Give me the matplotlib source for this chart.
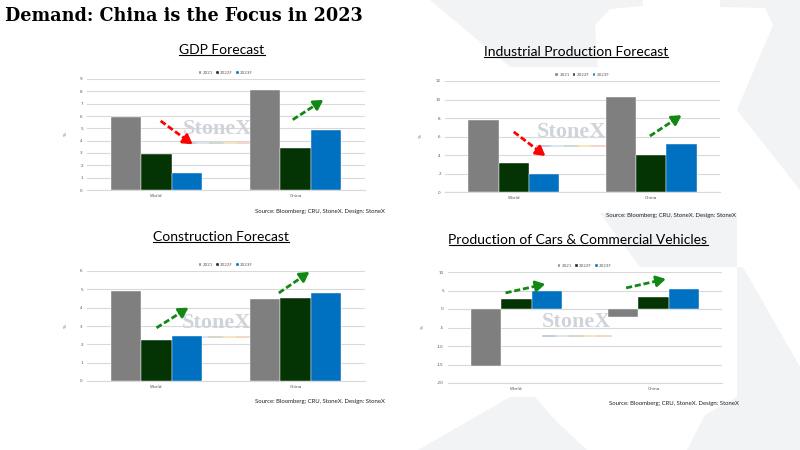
import numpy as np
import matplotlib
matplotlib.use("Agg")
import matplotlib.pyplot as plt
from matplotlib.patches import Polygon
from matplotlib.lines import Line2D

# ---- data ----
categories = ["World", "China"]
series_names = ["2021", "2022F", "2023F"]
series_colors = ["#7f7f7f", "#043304", "#0070c0"]

gdp_title = "GDP Forecast"
gdp_vals = [[5.9, 8.1], [2.9, 3.4], [1.4, 4.9]]
gdp_ticks = [0, 1, 2, 3, 4, 5, 6, 7, 8, 9]

ip_title = "Industrial Production Forecast"
ip_vals = [[7.8, 10.3], [3.1, 4.0], [1.9, 5.2]]
ip_ticks = [0, 2, 4, 6, 8, 10, 12]

con_title = "Construction Forecast"
con_vals = [[4.9, 4.45], [2.25, 4.55], [2.45, 4.82]]
con_ticks = [0, 1, 2, 3, 4, 5, 6]

cars_title = "Production of Cars & Commercial Vehicles"
cars_vals = [[-15.4, -2.1], [2.8, 3.2], [4.9, 5.4]]
cars_ticks = [-20, -15, -10, -5, 0, 5, 10]

# trend arrows: (x0, y0, x1, y1, colour) in data units
gdp_arrows = [(0.03, 5.6, 0.26, 3.7, "#ff0000"), (0.98, 5.7, 1.2, 7.3, "#118811")]
ip_arrows = [(0.0, 6.5, 0.23, 3.9, "#ff0000"), (0.99, 6.05, 1.22, 8.3, "#118811")]
con_arrows = [(0.0, 2.9, 0.23, 4.0, "#118811"), (0.88, 4.8, 1.1, 5.95, "#118811")]
cars_arrows = [(-0.08, 4.35, 0.21, 6.75, "#118811"), (0.8, 5.7, 1.09, 8.1, "#118811")]

source = "Source: Bloomberg; CRU, StoneX. Design: StoneX"

W, H = 800, 450
fig = plt.figure(figsize=(8, 4.5), dpi=100)
fig.patch.set_facecolor("white")

# faint logo shapes in the background (pixel coords)
bg = fig.add_axes([0, 0, 1, 1], zorder=-10)
bg.set_xlim(0, W)
bg.set_ylim(H, 0)
bg.axis("off")
shade = "#f2f3f5"
for pts in [
    [(430, 0), (643, 0), (643, 6), (610, 9), (595, 25), (598, 67), (510, 67)],
    [(720, 0), (800, 0), (800, 190), (737, 110), (773, 25), (765, 8), (720, 7)],
    [(600, 213), (737, 213), (737, 267), (640, 267)],
    [(418, 450), (510, 397), (535, 397), (555, 420), (587, 450)],
    [(687, 450), (705, 415), (737, 397), (737, 267), (743, 267), (800, 367), (800, 450)],
]:
    bg.add_patch(Polygon(pts, closed=True, facecolor=shade, edgecolor="none"))


def px_axes(left, right, top, bottom):
    return fig.add_axes([left / W, 1 - bottom / H, (right - left) / W, (bottom - top) / H])


def draw_arrow(ax, x0, y0, x1, y1, color):
    f = 0.72
    xm, ym = x0 + (x1 - x0) * f, y0 + (y1 - y0) * f
    ax.plot([x0, xm], [y0, ym], color=color, lw=2.0, dashes=(2.2, 1.0),
            solid_capstyle="butt", dash_capstyle="butt", zorder=5, clip_on=False)
    ax.annotate("", xy=(x1, y1), xytext=(xm, ym), zorder=6,
                arrowprops=dict(arrowstyle="-|>,head_width=0.32,head_length=0.55",
                                color=color, lw=2.0, shrinkA=0, shrinkB=0))


def bar_panel(ax, vals, ticks, arrows, wm_xy, zero_line=False):
    x = np.arange(len(categories))
    bw = 0.22
    for i, (name, col) in enumerate(zip(series_names, series_colors)):
        ax.bar(x + (i - 1) * bw, vals[i], bw, color=col, label=name,
               edgecolor="white", linewidth=0.3, zorder=3)
    ax.set_xlim(-0.5, 1.5)
    ax.set_ylim(ticks[0], ticks[-1])
    ax.set_yticks(ticks)
    ax.set_yticklabels([str(t) for t in ticks], fontsize=3, color="#595959")
    ax.set_xticks(x)
    ax.set_xticklabels(categories, fontsize=3.2, color="#595959")
    ax.tick_params(axis="both", length=0, pad=3)
    ax.grid(axis="y", color="#d9d9d9", lw=0.8, zorder=0)
    ax.set_axisbelow(True)
    for s in ["left", "right", "top"]:
        ax.spines[s].set_visible(False)
    ax.spines["bottom"].set_color("#d9d9d9")
    ax.spines["bottom"].set_linewidth(0.8)
    if zero_line:
        ax.axhline(0, color="#d9d9d9", lw=0.8, zorder=1)
    ax.set_ylabel("%", fontsize=3, color="#595959", labelpad=9)
    ax.legend(loc="lower center", bbox_to_anchor=(0.5, 1.02), ncol=3, frameon=False,
              fontsize=3, handlelength=0.6, handleheight=0.6, handletextpad=0.3,
              columnspacing=0.8, labelcolor="#595959", borderaxespad=0)
    # StoneX watermark
    ax.text(wm_xy[0], wm_xy[1], "StoneX", transform=ax.transAxes, ha="center", va="center",
            fontsize=16, family="Liberation Serif", fontweight="bold", color="#cfd4db", zorder=1)
    stripe = ["#b8c6d8", "#d4e2ee", "#c5d4c4", "#f2e2b0", "#f4cfc0"]
    for k, c in enumerate(stripe):
        ax.plot([wm_xy[0] - 0.125 + k * 0.05, wm_xy[0] - 0.125 + (k + 1) * 0.05],
                [wm_xy[1] - 0.13] * 2, transform=ax.transAxes, color=c, lw=1.2, zorder=1)
    for a in arrows:
        draw_arrow(ax, *a)


def panel_title(text, cx, cy):
    t = fig.text(cx / W, 1 - cy / H, text, ha="center", va="center", fontsize=10,
                 family="Lato", color="black")
    return t


ax1 = px_axes(87, 365, 79, 190)
bar_panel(ax1, gdp_vals, gdp_ticks, gdp_arrows, (0.468, 0.55))
ax2 = px_axes(445, 720, 81, 192)
bar_panel(ax2, ip_vals, ip_ticks, ip_arrows, (0.46, 0.54))
ax3 = px_axes(87, 365, 271, 381)
bar_panel(ax3, con_vals, con_ticks, con_arrows, (0.465, 0.53))
ax4 = px_axes(448, 722, 272, 383)
bar_panel(ax4, cars_vals, cars_ticks, cars_arrows, (0.47, 0.55), zero_line=True)

titles = [
    panel_title(gdp_title, 222, 50),
    panel_title(ip_title, 576, 52),
    panel_title(con_title, 221, 237),
    panel_title(cars_title, 578, 240),
]

for rx, ry in [(385, 211), (736, 216), (385, 402), (739, 404)]:
    fig.text(rx / W, 1 - ry / H, source, ha="right", va="center", fontsize=4.35,
             family="Lato", color="#222222")

fig.text(5 / W, 1 - 16 / H, "Demand: China is the Focus in 2023", ha="left", va="center",
         fontsize=12.7, family="DejaVu Serif", fontweight="bold", color="black")

# underline the panel titles
fig.canvas.draw()
renderer = fig.canvas.get_renderer()
for t in titles:
    bb = t.get_window_extent(renderer)
    y = bb.y0 + 1
    fig.add_artist(Line2D([bb.x0 / W, bb.x1 / W], [y / H, y / H], transform=fig.transFigure,
                          color="black", lw=0.8))

fig.savefig("out.png", dpi=100)
